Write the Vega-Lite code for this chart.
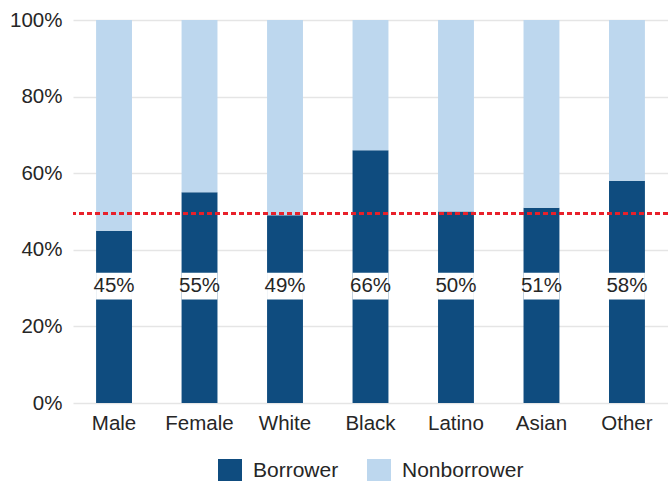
{
  "$schema": "https://vega.github.io/schema/vega-lite/v6.json",
  "width": 595,
  "height": 383,
  "autosize": {"type": "none"},
  "padding": {"left": 73, "top": 20, "right": 0, "bottom": 78},
  "background": "white",
  "config": {
    "view": {"stroke": null},
    "font": "Liberation Sans",
    "axis": {"labelFont": "Liberation Sans", "labelColor": "#262626", "labelFontSize": 20.5},
    "legend": {"labelFont": "Liberation Sans", "labelColor": "#262626"}
  },
  "data": {
    "values": [
      {"group": "Male", "status": "Borrower", "share": 0.45, "rank": 1},
      {"group": "Male", "status": "Nonborrower", "share": 0.55, "rank": 2},
      {"group": "Female", "status": "Borrower", "share": 0.55, "rank": 1},
      {"group": "Female", "status": "Nonborrower", "share": 0.45, "rank": 2},
      {"group": "White", "status": "Borrower", "share": 0.49, "rank": 1},
      {"group": "White", "status": "Nonborrower", "share": 0.51, "rank": 2},
      {"group": "Black", "status": "Borrower", "share": 0.66, "rank": 1},
      {"group": "Black", "status": "Nonborrower", "share": 0.34, "rank": 2},
      {"group": "Latino", "status": "Borrower", "share": 0.50, "rank": 1},
      {"group": "Latino", "status": "Nonborrower", "share": 0.50, "rank": 2},
      {"group": "Asian", "status": "Borrower", "share": 0.51, "rank": 1},
      {"group": "Asian", "status": "Nonborrower", "share": 0.49, "rank": 2},
      {"group": "Other", "status": "Borrower", "share": 0.58, "rank": 1},
      {"group": "Other", "status": "Nonborrower", "share": 0.42, "rank": 2}
    ]
  },
  "layer": [
    {
      "mark": {"type": "bar"},
      "encoding": {
        "x": {
          "field": "group",
          "type": "nominal",
          "sort": ["Male", "Female", "White", "Black", "Latino", "Asian", "Other"],
          "scale": {"paddingInner": 0.58, "paddingOuter": 0.27},
          "axis": {"title": null, "labelAngle": 0, "ticks": false, "domain": false, "labelPadding": 10}
        },
        "y": {
          "field": "share",
          "type": "quantitative",
          "stack": "zero",
          "scale": {"domain": [0, 1], "nice": false},
          "axis": {
            "title": null,
            "format": ".0%",
            "values": [0, 0.2, 0.4, 0.6, 0.8, 1],
            "ticks": false,
            "domain": false,
            "labelPadding": 11,
            "gridColor": "#e5e5e5",
            "gridWidth": 1.5
          }
        },
        "color": {
          "field": "status",
          "type": "nominal",
          "scale": {"domain": ["Borrower", "Nonborrower"], "range": ["#0f4c7f", "#bdd7ee"]},
          "legend": {
            "title": null,
            "orient": "none",
            "legendX": 145,
            "legendY": 439,
            "direction": "horizontal",
            "symbolType": "square",
            "symbolSize": 576,
            "symbolStrokeWidth": 0,
            "labelFontSize": 21,
            "labelOffset": 11,
            "columnPadding": 28
          }
        },
        "order": {"field": "rank", "type": "quantitative"}
      }
    },
    {
      "transform": [{"filter": "datum.status === 'Borrower'"}],
      "mark": {"type": "bar", "color": "white"},
      "encoding": {
        "x": {"field": "group", "type": "nominal", "sort": ["Male", "Female", "White", "Black", "Latino", "Asian", "Other"]},
        "y": {"datum": 0.27},
        "y2": {"datum": 0.34}
      }
    },
    {
      "transform": [{"filter": "datum.status === 'Borrower'"}],
      "mark": {"type": "text", "fontSize": 20.5, "color": "#262626", "baseline": "middle", "align": "center"},
      "encoding": {
        "x": {"field": "group", "type": "nominal", "sort": ["Male", "Female", "White", "Black", "Latino", "Asian", "Other"]},
        "y": {"datum": 0.305},
        "text": {"field": "share", "type": "quantitative", "format": ".0%"}
      }
    },
    {
      "mark": {"type": "rule", "color": "#e8212b", "strokeWidth": 2, "strokeDash": [5, 3]},
      "encoding": {
        "y": {"datum": 0.495}
      }
    }
  ]
}
